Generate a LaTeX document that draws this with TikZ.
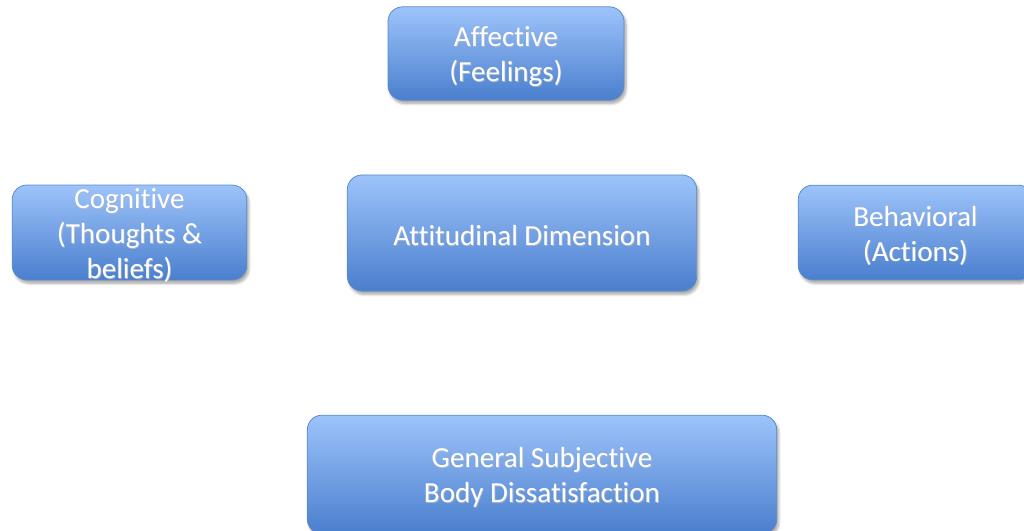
\documentclass[tikz,border=0pt]{standalone}
\usepackage{fontspec}
\setmainfont[Ligatures=NoCommon]{Carlito}
\usetikzlibrary{shadows.blur}
\definecolor{boxtop}{HTML}{9DC3FA}
\definecolor{boxbot}{HTML}{4A7FCE}
\definecolor{boxline}{HTML}{5B8BCB}
\definecolor{txtshadow}{HTML}{3A5A8A}
\newcommand\shl[1]{\leavevmode\raisebox{-2.5pt}[\height][\depth]{\rlap{\kern0.6pt\raisebox{-0.6pt}{\textcolor{txtshadow!45}{#1}}}#1}}
\tikzset{
  dimbox/.style={draw=boxline, line width=0.6pt, rounded corners=11pt,
    top color=boxtop, bottom color=boxbot, text=white, inner sep=0pt,
    align=center, font=\fontsize{21.8pt}{26.25pt}\selectfont,
    blur shadow={shadow xshift=1.5pt, shadow yshift=-2.5pt, shadow blur steps=6, shadow opacity=35}}
}
\begin{document}
\begin{tikzpicture}[x=0.75pt,y=-0.75pt]
\useasboundingbox (0,0) rectangle (1024,531);
\clip (0,0) rectangle (1024,531);
\node[dimbox, minimum width=177pt, minimum height=70pt] (aff) at (506,53.5) {\shl{Affective}\\\shl{(Feelings)}};
\node[dimbox, minimum width=176pt, minimum height=71pt] (cog) at (129.5,232.5) {\shl{Cognitive}\\\shl{(Thoughts \&}\\\shl{beliefs)}};
\node[dimbox, minimum width=262pt, minimum height=87pt] (att) at (522,233) {\shl{Attitudinal Dimension}};
\node[dimbox, minimum width=176pt, minimum height=71pt] (beh) at (915.5,232.5) {\shl{Behavioral}\\\shl{(Actions)}};
\node[dimbox, minimum width=352pt, minimum height=89pt] (gen) at (542,474.5) {\shl{General Subjective}\\\shl{Body Dissatisfaction}};
\end{tikzpicture}
\end{document}
